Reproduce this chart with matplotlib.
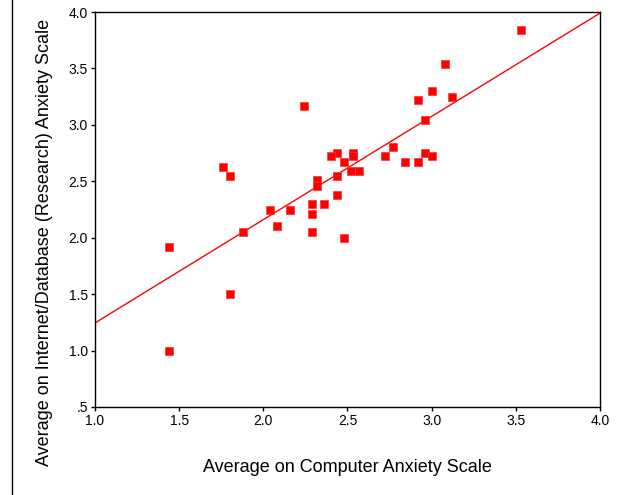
"""
Scatter of computer anxiety vs internet/database anxiety with fit line
"""

import numpy as np
import matplotlib
matplotlib.use('Agg')
import matplotlib.pyplot as plt
from matplotlib.lines import Line2D

plt.rcParams['font.family'] = ['Liberation Sans', 'DejaVu Sans']

# Data
computer_anxiety = [3.53, 3.08, 3.00, 2.92, 3.12, 2.24, 2.96, 1.76, 1.80, 2.77,
                    2.44, 2.53, 2.40, 2.53, 2.48, 2.72, 2.84, 2.92, 2.96, 3.00,
                    2.52, 2.57, 2.44, 2.32, 2.32, 2.44, 2.29, 2.36, 2.29, 2.04,
                    2.16, 1.88, 2.08, 2.29, 2.48, 1.44, 1.80, 1.44]
internet_anxiety = [3.84, 3.54, 3.30, 3.22, 3.25, 3.17, 3.04, 2.63, 2.55, 2.80,
                    2.75, 2.75, 2.72, 2.72, 2.67, 2.72, 2.67, 2.67, 2.75, 2.72,
                    2.59, 2.59, 2.55, 2.51, 2.46, 2.38, 2.30, 2.30, 2.21, 2.25,
                    2.25, 2.05, 2.10, 2.05, 2.00, 1.92, 1.50, 1.00]

x_ticks = [1.0, 1.5, 2.0, 2.5, 3.0, 3.5, 4.0]
x_tick_labels = ['1.0', '1.5', '2.0', '2.5', '3.0', '3.5', '4.0']
y_ticks = [0.5, 1.0, 1.5, 2.0, 2.5, 3.0, 3.5, 4.0]
y_tick_labels = ['.5', '1.0', '1.5', '2.0', '2.5', '3.0', '3.5', '4.0']

# regression line as drawn in the chart (intercept at x=1, slope)
fit_intercept = 1.245
fit_slope = 0.915

fig = plt.figure(figsize=(6.37, 4.95), dpi=100)
ax = fig.add_axes([95 / 637, 1 - 407 / 495, 505 / 637, 395 / 495])

ax.scatter(computer_anxiety, internet_anxiety, marker='s', s=30,
           color='#ff0000', edgecolors='#ff3030', linewidths=0.5, zorder=3)

line_x = np.array([1.0, 4.0])
ax.plot(line_x, fit_intercept + fit_slope * (line_x - 1.0), color='#ff0000', lw=1.0)

ax.set_xlim(1.0, 4.0)
ax.set_ylim(0.5, 4.0)
ax.set_xticks(x_ticks)
ax.set_xticklabels(x_tick_labels)
ax.set_yticks(y_ticks)
ax.set_yticklabels(y_tick_labels)
ax.tick_params(direction='out', length=3, width=1, labelsize=10, pad=2)

for s in ax.spines.values():
    s.set_linewidth(1.0)
    s.set_color('black')

ax.set_xlabel('Average on Computer Anxiety Scale', fontsize=13, labelpad=22)
fig.text(45 / 637, 1 - 242 / 495, 'Average on Internet/Database (Research) Anxiety Scale',
         rotation=90, ha='center', va='center', fontsize=13)

# left frame line of the output window
fig.add_artist(Line2D([12 / 637, 12 / 637], [0, 1], transform=fig.transFigure,
                      color='black', lw=1.0))

fig.savefig('out.png', dpi=100)
